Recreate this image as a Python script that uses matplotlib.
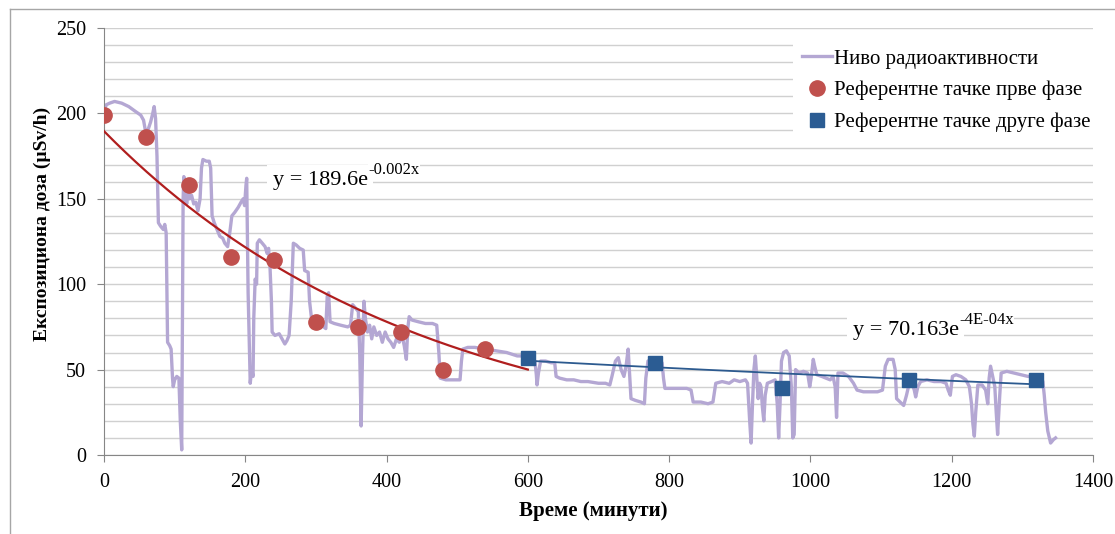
import numpy as np
import matplotlib.pyplot as plt
from matplotlib.ticker import MultipleLocator
from matplotlib.lines import Line2D

plt.rcParams['font.family'] = ['Liberation Serif', 'DejaVu Serif']

time = [0, 3, 8, 15, 25, 35, 45, 52, 56, 59, 62, 66, 69, 71, 73, 75, 77, 80, 84, 86, 88, 89, 90, 93, 95, 97, 98, 100, 103, 106, 108, 110,
        112, 113, 115, 117, 119, 121, 124, 127, 130, 133, 136, 138, 140, 145, 149, 151, 153, 156, 160, 164, 168, 171, 175, 178, 181, 185,
        190, 194, 197, 199, 201, 202, 203, 204, 206, 207, 209, 211, 212, 214, 216, 217, 220, 224, 228, 231, 233, 235, 237, 238,
        242, 248, 252, 256, 259, 262, 265, 268, 272, 277, 282, 284, 289, 291, 294, 300, 308, 314, 316, 318, 320, 326, 335, 345, 349,
        352, 356, 360, 362, 364, 366, 368, 370, 373, 376, 379, 382, 386, 390, 394, 398, 402, 406, 410, 414, 418, 422, 425, 428, 430, 432,
        436, 445, 455, 465, 471, 474, 476, 484, 494, 504, 506, 508, 515, 525, 540, 555, 570, 585, 593, 600,
        605, 610, 612, 613, 615, 618, 625, 633, 638, 640, 645, 655, 665, 675, 685, 700, 710, 716, 719, 724, 728, 732, 736, 739, 742,
        744, 746, 752, 760, 765, 767, 770, 775, 785, 790, 792, 794, 805, 815, 825, 831, 834, 845, 855, 862, 866, 875, 885, 892, 900,
        908, 911, 914, 916, 918, 920, 922, 924, 926, 928, 930, 932, 934, 936, 939, 945, 950, 953, 955, 957, 959, 962, 966, 970, 973, 975,
        977, 979, 984, 990, 996, 999, 1001, 1004, 1006, 1009, 1016, 1022, 1028, 1032, 1035, 1037, 1039, 1046, 1054, 1061, 1066, 1075,
        1085, 1095, 1102, 1106, 1110, 1117, 1120, 1122, 1127, 1132, 1136, 1141, 1144, 1147, 1149, 1152, 1156, 1165, 1175, 1185, 1192,
        1195, 1198, 1201, 1206, 1213, 1220, 1225, 1228, 1230, 1232, 1234, 1237, 1243, 1248, 1251, 1253, 1255, 1258, 1261, 1263, 1265,
        1268, 1270, 1278, 1288, 1298, 1308, 1318, 1326, 1329, 1331, 1333, 1336, 1340, 1344, 1347]
dose = [200, 205, 206, 207, 206, 204, 201, 199, 196, 189, 190, 195, 200, 204, 197, 175, 136, 134, 132, 135, 130, 100, 66, 64, 62, 45, 40, 44, 46, 45, 20, 3,
        150, 163, 160, 147, 156, 150, 152, 147, 148, 143, 150, 168, 173, 172, 172, 168, 140, 136, 132, 128, 127, 124, 122, 130, 140, 142,
        145, 148, 150, 146, 158, 162, 130, 95, 60, 42, 50, 46, 80, 103, 100, 124, 126, 124, 122, 118, 121, 110, 90, 72,
        70, 71, 68, 65, 67, 70, 90, 124, 123, 121, 120, 108, 107, 90, 79, 77, 76, 74, 93, 95, 78, 77, 76, 75, 76,
        88, 86, 84, 60, 17, 60, 90, 80, 72, 76, 68, 75, 70, 72, 66, 72, 68, 66, 63, 68, 66, 70, 64, 56, 74, 81,
        79, 78, 77, 77, 76, 60, 45, 44, 44, 44, 55, 62, 63, 63, 62, 61, 60, 58, 58, 57,
        56, 55, 47, 41, 48, 55, 55, 54, 54, 46, 45, 44, 44, 43, 43, 42, 42, 41, 46, 55, 57, 50, 46, 52, 62,
        48, 33, 32, 31, 30, 45, 55, 56, 56, 54, 45, 39, 39, 39, 39, 38, 31, 31, 30, 31, 42, 43, 42, 44, 43,
        44, 42, 20, 7, 30, 50, 58, 45, 33, 42, 40, 28, 20, 35, 42, 43, 44, 30, 10, 30, 55, 60, 61, 58, 40, 10,
        12, 50, 48, 49, 48, 40, 45, 56, 52, 47, 46, 45, 44, 46, 40, 22, 48, 48, 46, 42, 38, 37,
        37, 37, 38, 52, 56, 56, 50, 33, 31, 29, 35, 44, 42, 38, 34, 40, 43, 44, 43, 43, 42,
        38, 35, 46, 47, 46, 44, 40, 30, 18, 11, 25, 41, 41, 38, 30, 45, 52, 46, 40, 25, 12,
        35, 48, 49, 48, 47, 46, 46, 46, 43, 35, 25, 14, 7, 9, 10]

# reference points
ref1_t = [0, 60, 120, 180, 240, 300, 360, 420, 480, 540]
ref1_y = [199, 186, 158, 116, 114, 78, 75, 72, 50, 62]
ref2_t = [600, 780, 960, 1140, 1320]
ref2_y = [57, 54, 39, 44, 44]

# exponential trend lines y = a*exp(b*x)
a1, b1 = 189.6, -0.00222
a2, b2 = 70.163, -0.0004

fig = plt.figure(figsize=(11.15, 5.34), dpi=100)
ax = fig.add_axes([104 / 1115, 1 - 455 / 534, 989 / 1115, 427 / 534])

ax.plot(time, dose, color='#b4a7d3', lw=2.4, label='Ниво радиоактивности', zorder=2)

x1 = np.linspace(0, 600, 200)
ax.plot(x1, a1 * np.exp(b1 * x1), color='#b01e1e', lw=1.6, zorder=3)
x2 = np.linspace(600, 1320, 200)
ax.plot(x2, a2 * np.exp(b2 * x2), color='#2c5a8f', lw=1.3, zorder=3)

ax.plot(ref1_t, ref1_y, 'o', color='#c0504d', ms=11, label='Референтне тачке прве фазе', zorder=4)
ax.plot(ref2_t, ref2_y, 's', color='#2b5c93', ms=10, label='Референтне тачке друге фазе', zorder=4)

# trend line equations (main text + small superscript)
box = dict(facecolor='white', edgecolor='none', pad=4)
sup_box = dict(facecolor='white', edgecolor='none', pad=0.3)
t1 = ax.text(239, 161, 'y = 189.6e', fontsize=16, va='center', ha='left', bbox=box, zorder=3.5)
ax.annotate('-0.002x', xy=(1, 0.6), xycoords=t1, xytext=(0.4, 0), textcoords='offset points',
            fontsize=12, va='bottom', ha='left', bbox=sup_box, zorder=3.6)
t2 = ax.text(1060, 73, 'y = 70.163e', fontsize=16, va='center', ha='left', bbox=box, zorder=3.5)
ax.annotate('-4E-04x', xy=(1, 0.6), xycoords=t2, xytext=(0.4, 0), textcoords='offset points',
            fontsize=12, va='bottom', ha='left', bbox=sup_box, zorder=3.6)

ax.set_xlim(0, 1400)
ax.set_ylim(0, 250)
ax.xaxis.set_major_locator(MultipleLocator(200))
ax.yaxis.set_major_locator(MultipleLocator(50))
ax.yaxis.set_minor_locator(MultipleLocator(10))
ax.grid(True, axis='y', which='both', color='#d0d0d0', lw=1)
ax.set_axisbelow(True)
ax.tick_params(axis='both', which='major', labelsize=14.5, length=5, color='#868686', direction='out')
ax.tick_params(axis='y', which='major', pad=8)
ax.tick_params(axis='x', which='major', pad=8)
ax.tick_params(axis='y', which='minor', length=0)
for s in ['top', 'right']:
    ax.spines[s].set_visible(False)
for s in ['left', 'bottom']:
    ax.spines[s].set_color('#868686')

ax.set_xlabel('Време (минути)', fontsize=15, fontweight='bold')
ax.xaxis.set_label_coords(0.495, -0.108)
ax.set_ylabel('Експозициона доза (µSv/h)', fontsize=14, fontweight='bold')
ax.yaxis.set_label_coords(-0.054, 0.541)

leg = ax.legend(loc='upper left', bbox_to_anchor=(0.697, 0.970), fontsize=15, frameon=True,
                facecolor='white', edgecolor='none', framealpha=1, fancybox=False,
                handlelength=1.45, handletextpad=0.1, labelspacing=0.58, borderaxespad=0)

# chart border
fig.add_artist(Line2D([10 / 1115, 1], [1 - 9 / 534, 1 - 9 / 534], color='#a6a6a6', lw=1))
fig.add_artist(Line2D([10 / 1115, 10 / 1115], [0, 1 - 9 / 534], color='#a6a6a6', lw=1))

fig.savefig('out.png', dpi=100)
